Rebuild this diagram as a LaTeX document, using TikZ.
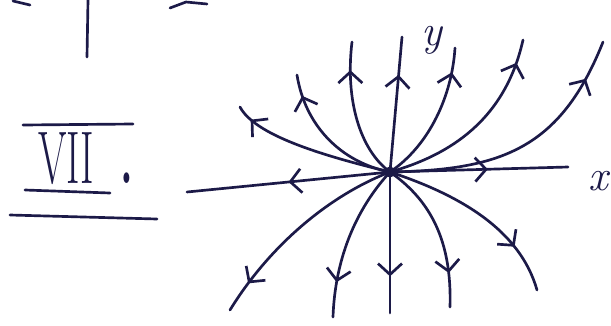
\documentclass[tikz,border=0pt]{standalone}
\usetikzlibrary{arrows.meta, decorations.markings}
\definecolor{ink}{RGB}{28,26,72}

\begin{document}
\begin{tikzpicture}[
    x=0.5mm, y=-0.5mm,
    color=ink,
    line cap=round, line join=round,
    ink line/.style={draw=ink, line width=3.8pt},
    flow/.style={ink line, postaction={decorate},
        decoration={markings, mark=at position #1 with {\arrow{Straight Barb[length=5.5mm, width=12mm]}}}},
    label node/.style={text=ink, inner sep=0pt, font=\fontsize{62}{62}\selectfont\itshape}
]
    \useasboundingbox (0,0) rectangle (611,325);

    % --- Scraps at the top edge ---
    \draw[ink line] (88,0) -- (87,57);
    \draw[ink line] (13,1) -- (30,5);
    \draw[ink line] (170,8) -- (186,2) -- (207,4);

    % --- Case number ---
    \node[text=ink, inner sep=0pt, anchor=base west, xscale=0.55,
          font=\fontsize{106}{106}\selectfont] (numeral) at (38,183) {VII\hspace{24mm}\textbf{.}};
    \draw[ink line] (23,125) -- (133,124);
    \draw[ink line] (25,190) -- (110,193);
    \draw[ink line] (10,215) -- (157,219);

    % --- Node at the origin ---
    \node[circle, fill=ink, inner sep=0pt, minimum size=5.5mm] (O) at (390,172) {};

    % --- Axes ---
    \coordinate (xr) at (568,167);
    \coordinate (xl) at (187,192);
    \coordinate (yu) at (402,37);
    \coordinate (yd) at (390,313);
    \draw[flow=0.55] (O.center) -- (xr);
    \draw[flow=0.5] (O.center) -- (xl);
    \draw[flow=0.72] (O.center) -- (yu);
    \draw[flow=0.74] (O.center) -- (yd);
    \node[label node] (xlab) at (598,181) {x};
    \node[label node] (ylab) at (432,40) {y};

    % --- Trajectories, upper half ---
    \coordinate (u1) at (240,107);
    \coordinate (u2) at (297,75);
    \coordinate (u3) at (352,42);
    \coordinate (u4) at (455,48);
    \coordinate (u5) at (523,40);
    \coordinate (u6) at (603,42);
    \draw[flow=0.9] (O.center) .. controls (320,155) and (255,135) .. (u1);
    \draw[flow=0.85] (O.center) .. controls (340,162) and (305,125) .. (u2);
    \draw[flow=0.8] (O.center) .. controls (360,150) and (345,100) .. (u3);
    \draw[flow=0.83] (O.center) .. controls (430,145) and (452,95) .. (u4);
    \draw[flow=0.88] (O.center) .. controls (450,155) and (505,120) .. (u5);
    \draw[flow=0.85] (O.center) .. controls (500,170) and (560,150) .. (u6);

    % --- Trajectories, lower half ---
    \coordinate (d1) at (230,310);
    \coordinate (d2) at (333,317);
    \coordinate (d3) at (450,307);
    \coordinate (d4) at (537,290);
    \draw[flow=0.85] (O.center) .. controls (330,195) and (270,245) .. (d1);
    \draw[flow=0.78] (O.center) .. controls (355,210) and (335,260) .. (d2);
    \draw[flow=0.78] (O.center) .. controls (430,200) and (452,240) .. (d3);
    \draw[flow=0.75] (O.center) .. controls (460,195) and (520,230) .. (d4);
\end{tikzpicture}
\end{document}
